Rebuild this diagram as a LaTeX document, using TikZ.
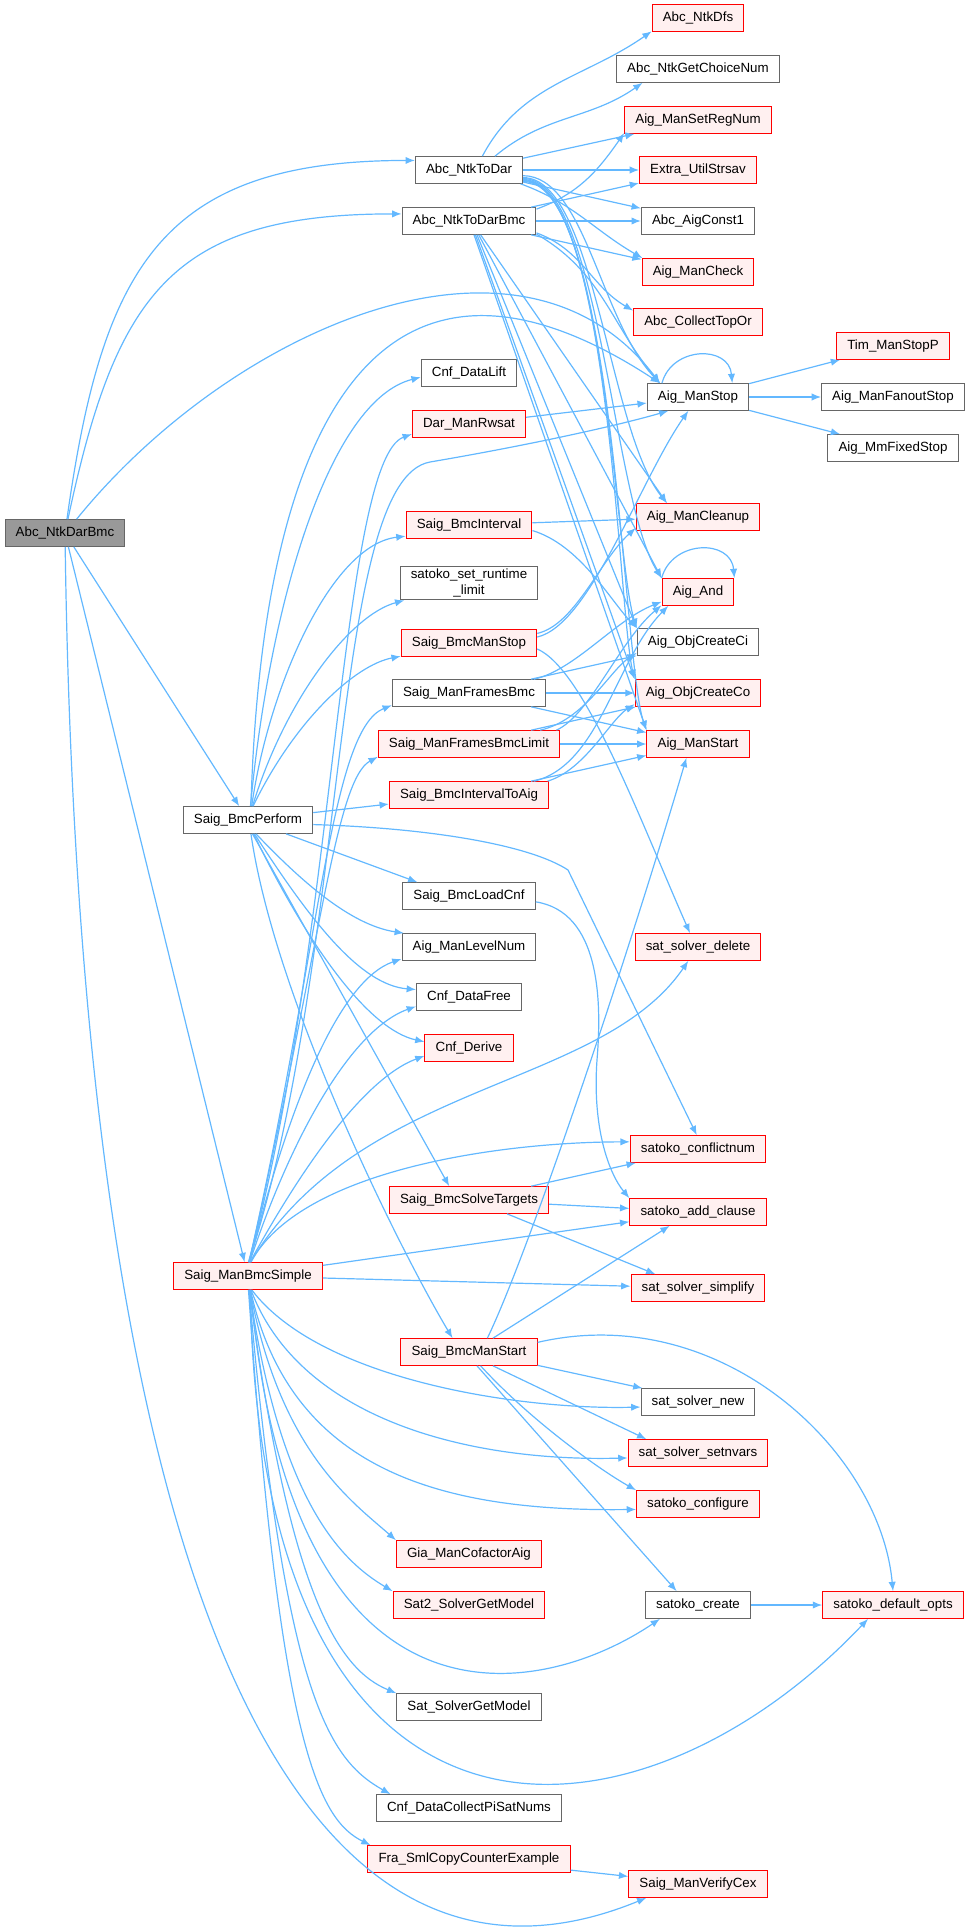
\documentclass[tikz,border=0pt]{standalone}
\usepackage{fontspec}
\setmainfont{Liberation Sans}
\usetikzlibrary{arrows.meta}
\definecolor{edgeblue}{HTML}{63B8FF}
\definecolor{redfill}{HTML}{FFF0F0}
\definecolor{boxgray}{HTML}{666666}
\definecolor{rootfill}{HTML}{999999}
\tikzset{>={Latex[length=7pt,width=5.5pt]}}
\tikzset{
  fn/.style={draw=boxgray,fill=white,line width=0.75pt,minimum height=20pt,
    inner xsep=8pt,inner ysep=2pt,font=\fontsize{10}{12}\selectfont},
  fnred/.style={fn,draw=red,fill=redfill},
  fnroot/.style={fn,fill=rootfill},
  call/.style={draw=edgeblue,line width=0.9pt}
}

\begin{document}
\begin{tikzpicture}[x=0.75pt,y=0.75pt]
\useasboundingbox (0,0) rectangle (969,-1927);
\begin{scope}[every node/.style={fn}]
\node[fnroot] (A) at (65,-533) {Abc\_NtkDarBmc};
\node (P) at (248,-820) {Saig\_BmcPerform};
\node[fnred] (S) at (248,-1276) {Saig\_ManBmcSimple};
% middle column
\node (T) at (469,-170) {Abc\_NtkToDar};
\node (B) at (469,-221) {Abc\_NtkToDarBmc};
\node (lift) at (469,-373) {Cnf\_DataLift};
\node[fnred] (rwsat) at (469,-424) {Dar\_ManRwsat};
\node[fnred] (intv) at (469,-525) {Saig\_BmcInterval};
\node[align=center] (rtl) at (469,-583) {satoko\_set\_runtime\\\_limit};
\node[fnred] (mstop) at (469,-643) {Saig\_BmcManStop};
\node (fbmc) at (469,-693) {Saig\_ManFramesBmc};
\node[fnred] (flim) at (469,-744) {Saig\_ManFramesBmcLimit};
\node[fnred] (i2aig) at (469,-795) {Saig\_BmcIntervalToAig};
\node (lcnf) at (469,-896) {Saig\_BmcLoadCnf};
\node (lvl) at (469,-947) {Aig\_ManLevelNum};
\node (dfree) at (469,-997) {Cnf\_DataFree};
\node[fnred] (derive) at (469,-1048) {Cnf\_Derive};
\node[fnred] (solve) at (469,-1200) {Saig\_BmcSolveTargets};
\node[fnred] (mstart) at (469,-1352) {Saig\_BmcManStart};
\node[fnred] (cof) at (469,-1554) {Gia\_ManCofactorAig};
\node[fnred] (s2gm) at (469,-1605) {Sat2\_SolverGetModel};
\node (sgm) at (469,-1707) {Sat\_SolverGetModel};
\node (pisat) at (469,-1808) {Cnf\_DataCollectPiSatNums};
\node[fnred] (fra) at (469,-1859) {Fra\_SmlCopyCounterExample};
% right column
\node[fnred] (dfs) at (698,-18) {Abc\_NtkDfs};
\node (choice) at (698,-69) {Abc\_NtkGetChoiceNum};
\node[fnred] (setreg) at (698,-120) {Aig\_ManSetRegNum};
\node[fnred] (strsav) at (698,-170) {Extra\_UtilStrsav};
\node (const1) at (698,-221) {Abc\_AigConst1};
\node[fnred] (check) at (698,-272) {Aig\_ManCheck};
\node[fnred] (topor) at (698,-322) {Abc\_CollectTopOr};
\node (stop) at (698,-397) {Aig\_ManStop};
\node[fnred] (clean) at (698,-517) {Aig\_ManCleanup};
\node[fnred] (and) at (698,-592) {Aig\_And};
\node (ci) at (698,-642) {Aig\_ObjCreateCi};
\node[fnred] (co) at (698,-693) {Aig\_ObjCreateCo};
\node[fnred] (start) at (698,-744) {Aig\_ManStart};
\node[fnred] (sdel) at (698,-947) {sat\_solver\_delete};
\node[fnred] (conf) at (698,-1149) {satoko\_conflictnum};
\node[fnred] (addcl) at (698,-1212) {satoko\_add\_clause};
\node[fnred] (simp) at (698,-1288) {sat\_solver\_simplify};
\node (snew) at (698,-1402) {sat\_solver\_new};
\node[fnred] (setnv) at (698,-1453) {sat\_solver\_setnvars};
\node[fnred] (cfg) at (698,-1504) {satoko\_configure};
\node (screate) at (698,-1605) {satoko\_create};
\node[fnred] (vcex) at (698,-1884) {Saig\_ManVerifyCex};
% far right
\node[fnred] (timstop) at (893,-346) {Tim\_ManStopP};
\node (fanout) at (893,-397) {Aig\_ManFanoutStop};
\node (mmfixed) at (893,-448) {Aig\_MmFixedStop};
\node[fnred] (defopts) at (893,-1605) {satoko\_default\_opts};
\end{scope}
\begin{scope}[every edge/.style={call}]
% Abc_NtkDarBmc
\path [->] (A.82) edge[out=82,in=180,looseness=1.3] (T.170);
\path [->] (A.78) edge[out=78,in=180,looseness=1.3] (B.174);
\draw [call,->] (A.50) .. controls (230,-330) and (520,-200) .. (stop.160);
\path [->] (A) edge (P);
\path [->] (A) edge (S);
\draw [call,->] (A) .. controls (80,-1600) and (300,-2040) .. (vcex.195);
% Abc_NtkToDar
\path [->] (T.46) edge[out=62,in=215] (dfs.196);
\path [->] (T.28) edge[out=40,in=215] (choice.194);
\path [->] (T) edge (setreg);
\path [->] (T) edge (strsav);
\path [->] (T) edge (const1);
\path [->] (T.-15) edge[out=-20,in=150] (check.166);
\draw [call,->] (T.-6) .. controls (585,-176) and (600,-320) .. (stop.160);
\draw [call,->] (T.-8) .. controls (595,-178) and (608,-430) .. (clean.156);
\draw [call,->] (T.-9) .. controls (600,-178) and (612,-500) .. (and.north west);
\draw [call,->] (T.-10) .. controls (605,-180) and (615,-560) .. (ci.north west);
\draw [call,->] (T.-11) .. controls (610,-180) and (618,-610) .. (co.north west);
\draw [call,->] (T.-12) .. controls (615,-180) and (622,-660) .. (start.north west);
% Abc_NtkToDarBmc
\path [->] (B.10) edge[out=20,in=235] (setreg.190);
\path [->] (B) edge (strsav);
\path [->] (B) edge (const1);
\path [->] (B) edge (check);
\path [->] (B.-10) edge[out=-20,in=150] (topor.170);
\path [->] (B.-11) edge[out=-30,in=130] (stop.160);
\path [->] (B.-50) edge (clean.156);
\path [->] (B.-55) edge (and.north west);
\path [->] (B.-60) edge (ci.north west);
\path [->] (B.-65) edge (co.north west);
\path [->] (B.-70) edge (start.north west);
% Saig_BmcPerform
\draw [call,->] (P.80) .. controls (270,-600) and (330,-400) .. (lift.185);
\draw [call,->] (P.78) .. controls (262,-420) and (380,-200) .. (stop.160);
\draw [call,->] (P.75) .. controls (268,-690) and (330,-545) .. (intv.190);
\draw [call,->] (P.72) .. controls (285,-700) and (350,-615) .. (rtl.195);
\draw [call,->] (P.70) .. controls (295,-720) and (355,-665) .. (mstop.191);
\path [->] (P) edge (i2aig);
\path [->] (P.-20) edge (lcnf.165);
\draw [call,->] (P.-60) .. controls (300,-880) and (350,-925) .. (lvl.168);
\draw [call,->] (P.-65) .. controls (310,-920) and (360,-985) .. (dfree.172);
\draw [call,->] (P.-68) .. controls (310,-950) and (370,-1030) .. (derive.172);
\path [->] (P.-72) edge (solve.145);
\draw [call,->] (P.-78) .. controls (275,-1000) and (400,-1250) .. (mstart.140);
\draw [call,->] (P.-4) .. controls (430,-828) and (530,-845) .. (568,-870) -- (conf.95);
% Saig_ManBmcSimple
\draw [call,->] (S.88) .. controls (335,-950) and (340,-460) .. (rwsat.190);
\draw [call,->] (S.87) .. controls (350,-950) and (330,-480) .. (430,-462)
   .. controls (530,-445) and (620,-425) .. (stop.205);
\draw [call,->] (S.86) .. controls (320,-950) and (330,-730) .. (fbmc.189);
\draw [call,->] (S.85) .. controls (320,-950) and (335,-780) .. (flim.188);
\draw [call,->] (S.84) .. controls (290,-1100) and (340,-980) .. (lvl.190);
\draw [call,->] (S.83) .. controls (290,-1140) and (350,-1030) .. (dfree.190);
\draw [call,->] (S.82) .. controls (295,-1180) and (360,-1080) .. (derive.190);
\draw [call,->] (S.80) .. controls (360,-1080) and (600,-1090) .. (sdel.-125);
\draw [call,->] (S.78) .. controls (300,-1170) and (500,-1142) .. (conf.174);
\path [->] (S) edge (addcl);
\path [->] (S) edge (simp);
\draw [call,->] (S.-75) .. controls (320,-1380) and (520,-1410) .. (snew.185);
\draw [call,->] (S.-78) .. controls (300,-1420) and (470,-1462) .. (setnv.184);
\draw [call,->] (S.-80) .. controls (290,-1470) and (440,-1512) .. (cfg.185);
\draw [call,->] (S.-82) .. controls (280,-1450) and (350,-1500) .. (cof.north west);
\draw [call,->] (S.-84) .. controls (280,-1500) and (340,-1560) .. (s2gm.north west);
\draw [call,->] (S.-79) .. controls (290,-1750) and (540,-1700) .. (screate.200);
\draw [call,->] (S.-85) .. controls (290,-1600) and (340,-1670) .. (sgm.north west);
\draw [call,->] (S.-81) .. controls (260,-1900) and (640,-1860) .. (defopts.209);
\draw [call,->] (S.-86) .. controls (285,-1700) and (330,-1760) .. (pisat.170);
\draw [call,->] (S.-88) .. controls (280,-1750) and (320,-1820) .. (fra.172);
% middle column callers
\path [->] (rwsat) edge (stop);
\path [->] (intv) edge (clean);
\draw [call,->] (intv.-5) .. controls (580,-545) and (610,-600) .. (ci.north west);
\draw [call,->] (mstop.5) .. controls (590,-625) and (640,-480) .. (stop.-125);
\draw [call,->] (mstop.8) .. controls (575,-625) and (600,-560) .. (clean.190);
\draw [call,->] (mstop.-5) .. controls (585,-670) and (640,-820) .. (sdel.120);
\draw [call,->] (fbmc.12) .. controls (575,-670) and (615,-620) .. (and.195);
\path [->] (fbmc) edge (ci);
\path [->] (fbmc) edge (co);
\path [->] (fbmc) edge (start);
\draw [call,->] (flim.9) .. controls (590,-715) and (620,-640) .. (and.200);
\draw [call,->] (flim.11) .. controls (585,-720) and (610,-670) .. (ci.190);
\path [->] (flim) edge (co);
\path [->] (flim) edge (start);
\draw [call,->] (i2aig.12) .. controls (600,-765) and (615,-660) .. (and.205);
\draw [call,->] (i2aig.10) .. controls (585,-770) and (610,-720) .. (co.190);
\path [->] (i2aig) edge (start);
\draw [call,->] (lcnf.-5) .. controls (600,-912) and (602,-1000) .. (597,-1060)
   .. controls (592,-1130) and (610,-1175) .. (addcl.north west);
\path [->] (solve) edge (conf);
\path [->] (solve) edge (addcl);
\path [->] (solve.-20) edge (simp.162);
\draw [call,->] (mstart.37) .. controls (530,-1250) and (630,-950) .. (start.-130);
\path [->] (mstart.30) edge (addcl.206);
\path [->] (mstart.-11) edge (snew.166);
\path [->] (mstart.-30) edge (setnv.165);
\draw [call,->] (mstart.-50) .. controls (530,-1420) and (600,-1470) .. (cfg.north west);
\path [->] (mstart.-60) edge (screate.147);
\draw [call,->] (mstart.8) .. controls (720,-1300) and (880,-1450) .. (defopts.north);
\path [->] (fra) edge (vcex);
% right column callers
\path [->] (stop.159) edge[out=75,in=95,looseness=1.4] (stop.22);
\path [->] (and.north west) edge[out=75,in=95,looseness=1.4] (and.north east);
\path [->] (stop) edge (timstop);
\path [->] (stop) edge (fanout);
\path [->] (stop) edge (mmfixed);
\path [->] (screate) edge (defopts);
\end{scope}
\end{tikzpicture}
\end{document}
